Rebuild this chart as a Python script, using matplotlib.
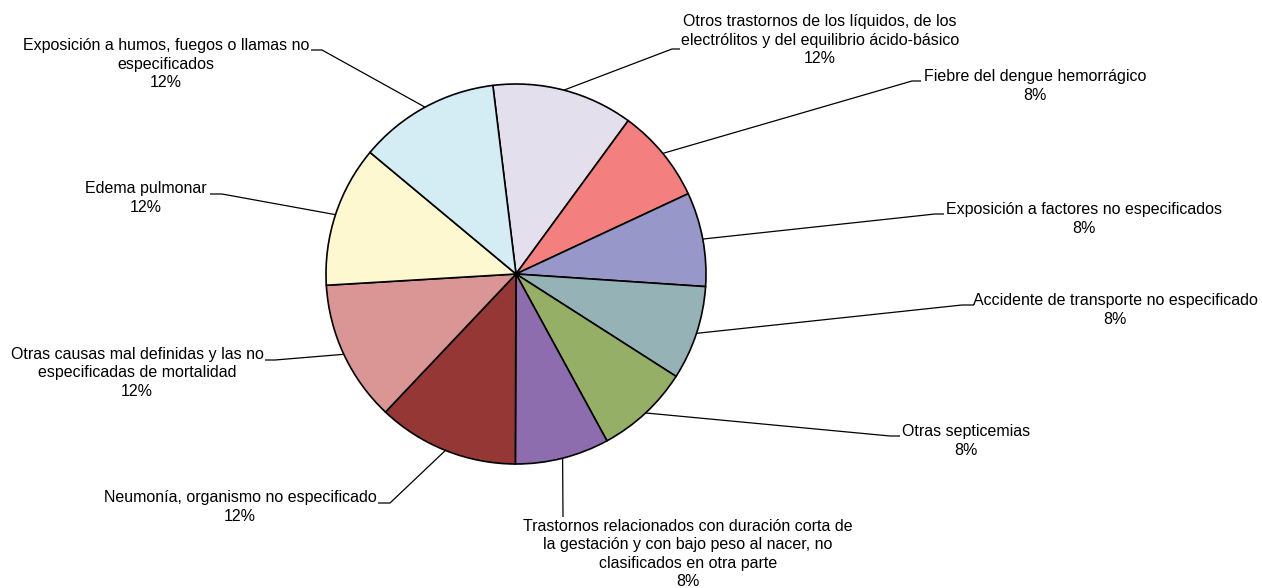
# Gráfico de sectores: distribución de causas de muerte (%)
import numpy as np
import matplotlib.pyplot as plt

plt.rcParams['font.family'] = ['Liberation Sans', 'DejaVu Sans']

# =========================
# DATOS (orden horario desde arriba)
# =========================
causas = [
    "Otros trastornos de los líquidos, de los\nelectrólitos y del equilibrio ácido-básico",
    "Fiebre del dengue hemorrágico",
    "Exposición a factores no especificados",
    "Accidente de transporte no especificado",
    "Otras septicemias",
    "Trastornos relacionados con duración corta de\nla gestación y con bajo peso al nacer, no\nclasificados en otra parte",
    "Neumonía, organismo no especificado",
    "Otras causas mal definidas y las no\nespecificadas de mortalidad",
    "Edema pulmonar",
    "Exposición a humos, fuegos o llamas no\nespecificados",
]
casos = [3, 2, 2, 2, 2, 2, 3, 3, 3, 3]
colores = ["#E4DFEC", "#F47F7F", "#9797C9", "#95B3B7", "#96AF66",
           "#8E6DAF", "#953735", "#D99694", "#FDF8CF", "#D4ECF3"]

# =========================
# DISEÑO (pixeles, origen arriba a la izquierda)
# =========================
W, H = 1262, 588
CENTRO = (516, 274)
RADIO = 190
INICIO = 97  # grados

# centro del bloque de texto de cada etiqueta
pos_texto = [(820, 40), (1035, 86), (1084, 219), (1115, 310), (966, 441),
             (688, 554), (240, 507), (137, 373), (146, 198), (166, 64)]
# codo de la línea guía y punto final junto al texto
guias = [((672, 49), (680, 49)), ((912, 81), (921, 81)), ((935, 214), (944, 214)),
         ((962, 305), (974, 305)), ((890, 436), (900, 436)), ((563, 517), (563, 517)),
         ((390, 503), (378, 503)), ((275, 360), (265, 360)), ((222, 194), (210, 194)),
         ((322, 50), (311, 50))]


def py(y):
    return H - y


fig = plt.figure(figsize=(W / 100, H / 100), dpi=100)
ax = fig.add_axes([0, 0, 1, 1])

wedges, _ = ax.pie(casos, colors=colores, startangle=INICIO, counterclock=False,
                   radius=RADIO, center=(CENTRO[0], py(CENTRO[1])),
                   wedgeprops=dict(edgecolor="black", linewidth=1.2))
ax.set_xlim(0, W)
ax.set_ylim(0, H)
ax.set_aspect("equal")
ax.axis("off")

total = sum(casos)
for w, nombre, n, (tx, ty), (codo, fin) in zip(wedges, causas, casos, pos_texto, guias):
    ang = np.deg2rad((w.theta1 + w.theta2) / 2)
    x0 = CENTRO[0] + RADIO * np.cos(ang)
    y0 = py(CENTRO[1]) + RADIO * np.sin(ang)
    ax.plot([x0, codo[0], fin[0]], [y0, py(codo[1]), py(fin[1])],
            color="black", lw=0.9, solid_capstyle="butt")
    ax.text(tx, py(ty), f"{nombre}\n{n / total * 100:.0f}%",
            ha="center", va="center", fontsize=11.5, linespacing=1.3, color="black")

fig.savefig("out.png", dpi=100)
